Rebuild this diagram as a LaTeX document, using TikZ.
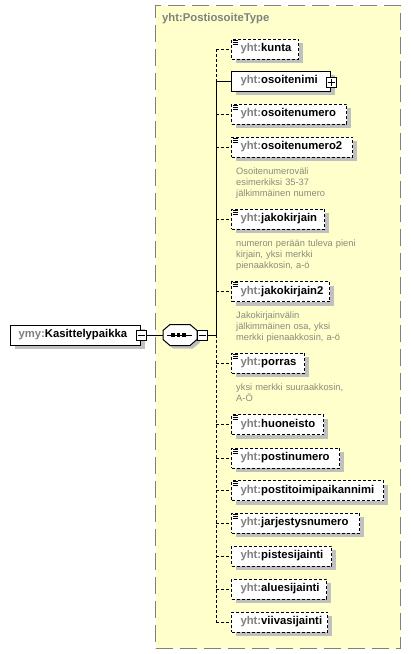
\documentclass[tikz,border=0pt]{standalone}
\usepackage{fontspec}
\setmainfont{Liberation Sans}
\usetikzlibrary{shadows}
\definecolor{ybg}{RGB}{255,255,204}
\definecolor{shc}{RGB}{192,192,192}
\definecolor{pfx}{RGB}{128,128,128}
\definecolor{dsc}{RGB}{138,138,122}
\definecolor{bord}{RGB}{128,128,128}
\newcommand\elfont{\fontsize{11.3pt}{13pt}\selectfont\bfseries}
\tikzset{
  elembase/.style={anchor=west, fill=white, line width=1pt, minimum height=20pt, inner sep=0pt,
    general shadow={fill=shc, shadow xshift=4pt, shadow yshift=-4pt}},
  optel/.style={elembase, draw=black, dash pattern=on 3pt off 2pt},
  reqel/.style={elembase, draw=black},
  desc/.style={anchor=base west, text width=140pt, align=left, inner sep=0pt,
    font=\fontsize{9.3pt}{11pt}\selectfont, text=dsc},
  conn/.style={line width=1pt},
  optconn/.style={conn, dash pattern=on 3pt off 2pt},
  pmbox/.style={draw=black, fill=white, line width=1pt, minimum size=10pt, inner sep=0pt},
  icon/.style={line width=0.9pt},
}
\newcommand\xel[5]{\node[#2] (#1) at (231,#3) {\makebox[#4pt][l]{\elfont\hspace{9pt}\textcolor{pfx}{yht:}#5}};}
\newcommand\xicon[1]{\foreach \dd in {1.5pt,3.5pt,5.5pt}{\draw[icon] ([xshift=2pt,yshift=-\dd]#1.north west) -- ++(5pt,0pt);}}
\begin{document}
\begin{tikzpicture}[x=1pt,y=-1pt]
\useasboundingbox (0,0) rectangle (411,654);
% container
\node[draw=bord, fill=ybg, line width=1.4pt, dash pattern=on 17pt off 7pt, minimum width=245pt, minimum height=643pt, anchor=north west, inner sep=0pt] (ptype) at (155,5) {};
\node[anchor=west, inner sep=0pt, text=pfx, font=\elfont] (title) at (162,19) {yht:PostiosoiteType};
% elements
\xel{kunta}{optel}{49}{67}{kunta}
\xel{osoitenimi}{reqel}{81}{99}{osoitenimi}
\xel{osoitenumero}{optel}{114}{115}{osoitenumero}
\xel{osoitenumero2}{optel}{147}{121}{osoitenumero2}
\xel{jakokirjain}{optel}{219}{93}{jakokirjain}
\xel{jakokirjain2}{optel}{291.5}{98}{jakokirjain2}
\xel{porras}{optel}{363}{73}{porras}
\xel{huoneisto}{optel}{424.5}{92}{huoneisto}
\xel{postinumero}{optel}{458}{108}{postinumero}
\xel{postitoimipaikannimi}{optel}{490.5}{152}{postitoimipaikannimi}
\xel{jarjestysnumero}{optel}{523}{128}{jarjestysnumero}
\xel{pistesijainti}{optel}{556}{100}{pistesijainti}
\xel{aluesijainti}{optel}{589}{95}{aluesijainti}
\xel{viivasijainti}{optel}{622}{96}{viivasijainti}
\foreach \n in {kunta,osoitenumero,osoitenumero2,jakokirjain,jakokirjain2,porras,huoneisto,postinumero,postitoimipaikannimi,jarjestysnumero}{\xicon{\n}}
% plus box
\node[pmbox] (onplus) at ([yshift=-1.5pt]osoitenimi.east) {};
\draw[line width=1pt] ([xshift=2pt]onplus.west) -- ([xshift=-2pt]onplus.east);
\draw[line width=1pt] ([yshift=-2pt]onplus.north) -- ([yshift=2pt]onplus.south);
% descriptions
\node[desc] (d1) at ([xshift=5pt,yshift=-16.5pt]osoitenumero2.south west) {Osoitenumeroväli\\esimerkiksi 35-37\\jälkimmäinen numero};
\node[desc] (d2) at ([xshift=5pt,yshift=-16.5pt]jakokirjain.south west) {numeron perään tuleva pieni\\kirjain, yksi merkki\\pienaakkosin, a-ö};
\node[desc] (d3) at ([xshift=5pt,yshift=-16.5pt]jakokirjain2.south west) {Jakokirjainvälin\\jälkimmäinen osa, yksi\\merkki pienaakkosin, a-ö};
\node[desc] (d4) at ([xshift=5pt,yshift=-16.5pt]porras.south west) {yksi merkki suuraakkosin,\\A-Ö};
% parent element
\node[reqel] (kas) at (10,335) {\makebox[130pt][l]{\elfont\hspace{8pt}\textcolor{pfx}{ymy:}Kasittelypaikka}};
\node[pmbox] (kasm) at (kas.east) {};
\draw[line width=1pt] ([xshift=2pt]kasm.west) -- ([xshift=-2pt]kasm.east);
% sequence
\node[minimum width=34pt, minimum height=21pt, inner sep=0pt] (seq) at (180,335) {};
\begin{scope}[shift={(seq.center)}]
  \fill[shc, shift={(3pt,-3pt)}] (-10,-10.5) -- (10,-10.5) -- (17,-4.5) -- (17,4.5) -- (10,10.5) -- (-10,10.5) -- (-17,4.5) -- (-17,-4.5) -- cycle;
  \draw[fill=white, line width=1pt] (-10,-10.5) -- (10,-10.5) -- (17,-4.5) -- (17,4.5) -- (10,10.5) -- (-10,10.5) -- (-17,4.5) -- (-17,-4.5) -- cycle;
  \draw[line width=1pt] (-13,0) -- (12,0);
  \foreach \xx in {-7,-1.5,4}{\fill (\xx-1.6,-1.6) rectangle (\xx+1.6,1.6);}
\end{scope}
\node[pmbox] (seqm) at (202,335) {};
\draw[line width=1pt] ([xshift=2pt]seqm.west) -- ([xshift=-2pt]seqm.east);
% connectors
\draw[conn] (kasm.east) -- (seq.west);
\coordinate (tx) at (216,0);
\draw[conn] (seqm.east) -- (seqm.east -| tx);
\draw[optconn] (kunta.west -| tx) -- (osoitenimi.west -| tx);
\draw[conn] (osoitenimi.west -| tx) -- (seqm.east -| tx);
\draw[optconn] (seqm.east -| tx) -- (viivasijainti.west -| tx);
\draw[conn] (osoitenimi.west -| tx) -- (osoitenimi.west);
\foreach \n in {kunta,osoitenumero,osoitenumero2,jakokirjain,jakokirjain2,porras,huoneisto,postinumero,postitoimipaikannimi,jarjestysnumero,pistesijainti,aluesijainti,viivasijainti}{
  \draw[optconn] (\n.west -| tx) -- (\n.west);
}
\end{tikzpicture}
\end{document}
